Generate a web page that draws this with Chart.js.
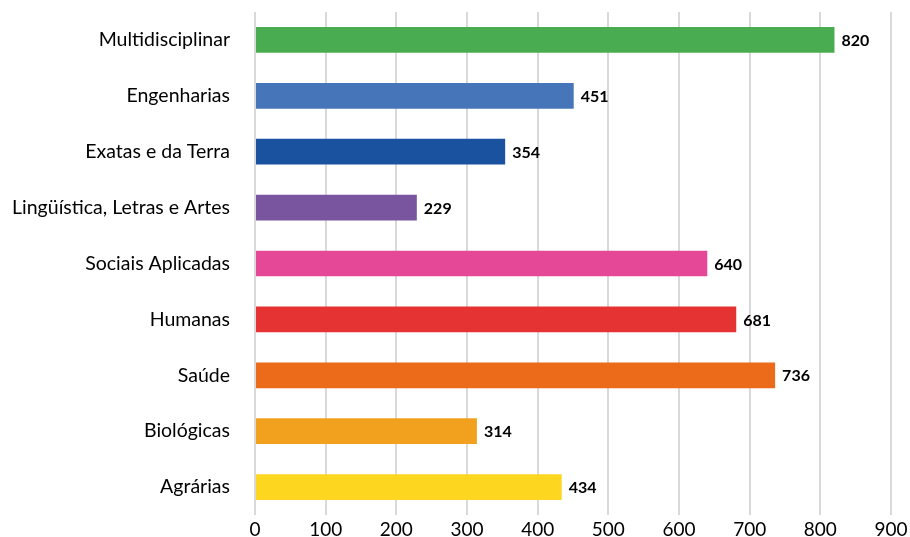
<!DOCTYPE html>
<html><head><meta charset="utf-8">
<script src="https://cdn.jsdelivr.net/npm/chart.js@4"></script>
<style>html,body{margin:0;padding:0;background:#fff}#w{width:910px;height:537px}</style>
</head><body><div id="w"><canvas id="c"></canvas></div>
<script>
const categories = ["Multidisciplinar","Engenharias","Exatas e da Terra","Lingüística, Letras e Artes","Sociais Aplicadas","Humanas","Saúde","Biológicas","Agrárias"];
const values = [820,451,354,229,640,681,736,314,434];
const colors = ["#4aac50","#4775b9","#1a52a0","#7a559f","#e44896","#e53333","#eb6b1b","#f2a11f","#fdd61f"];
const xTicks = [0,100,200,300,400,500,600,700,800,900];
const FONT = "Lato, 'Open Sans', sans-serif";

const labelPlugin = {
  id:'vlabels',
  afterDatasetsDraw(chart){
    const ctx = chart.ctx;
    const meta = chart.getDatasetMeta(0);
    ctx.save();
    ctx.font = "bold 16px " + FONT;
    ctx.fillStyle = "#000";
    ctx.textBaseline = "middle";
    ctx.textAlign = "left";
    meta.data.forEach((bar,i)=>{
      ctx.fillText(String(values[i]), bar.x + 7, bar.y + 1);
    });
    ctx.restore();
  }
};

new Chart(document.getElementById('c'), {
  type:'bar',
  data:{labels:categories, datasets:[{data:values, backgroundColor:colors, barPercentage:0.46, categoryPercentage:1.0}]},
  options:{
    indexAxis:'y', responsive:true, maintainAspectRatio:false, animation:false,
    layout:{padding:{top:12,right:19,left:0,bottom:0}},
    plugins:{legend:{display:false}, tooltip:{enabled:false}},
    scales:{
      x:{min:0,max:900,
        afterBuildTicks(s){ s.ticks = xTicks.map(v=>({value:v})); },
        grid:{color:"#d9d9d9", lineWidth:2, drawTicks:false},
        border:{display:false},
        ticks:{color:"#000", font:{family:FONT,size:19}, padding:3},
        afterFit(s){ s.height = 22; s.paddingLeft = 0; s.paddingRight = 0; }
      },
      y:{
        grid:{display:false, drawTicks:false},
        border:{display:false},
        ticks:{color:"#000", font:{family:FONT,size:19.5}, padding:25},
        afterFit(s){ s.width = 255; s.paddingTop = 0; s.paddingBottom = 0; }
      }
    }
  },
  plugins:[labelPlugin]
});
</script></body></html>
